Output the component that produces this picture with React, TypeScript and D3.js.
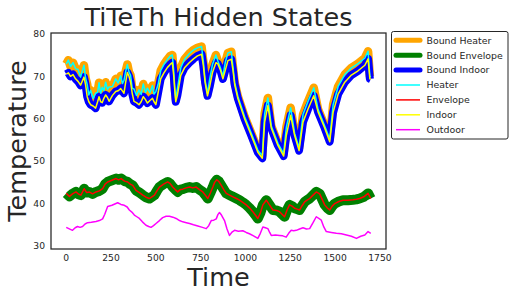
import * as d3 from "d3";

// top group (heater / indoor), sampled at the same times
const topTime = [0, 12, 24, 38, 52, 66, 80, 99, 108, 117, 126, 136, 150, 164, 175, 183, 192, 201, 210, 220, 230, 239, 258, 276, 290, 304, 314, 322, 333, 341, 350, 359, 368, 378, 392, 406, 418, 430, 442, 453, 467, 481, 490, 500, 512, 527, 545, 565, 580, 592, 600, 606, 611, 620, 639, 660, 686, 710, 732, 755, 765, 775, 788, 800, 816, 835, 846, 860, 874, 888, 902, 921, 930, 940, 958, 995, 1032, 1069, 1094, 1107, 1125, 1144, 1181, 1213, 1228, 1252, 1274, 1299, 1321, 1349, 1381, 1405, 1442, 1470, 1489, 1517, 1554, 1591, 1628, 1666, 1684, 1694, 1699];
const indoor = [70.5, 70.8, 70.0, 70.4, 69.4, 68.8, 67.9, 69.8, 68.0, 65.2, 64.0, 63.3, 63.0, 62.5, 64.0, 65.2, 64.0, 63.8, 64.8, 65.6, 65.0, 64.1, 65.5, 66.4, 66.6, 67.1, 66.5, 66.0, 69.0, 70.9, 70.0, 68.6, 66.0, 64.1, 63.8, 63.3, 64.0, 65.2, 64.5, 63.7, 64.3, 64.8, 64.0, 63.3, 66.0, 69.4, 70.8, 72.1, 72.8, 73.2, 70.0, 66.5, 64.0, 65.5, 70.2, 72.0, 73.2, 74.1, 74.8, 75.2, 72.5, 68.5, 65.4, 67.5, 70.9, 73.2, 72.9, 71.5, 69.4, 71.5, 73.7, 74.0, 71.5, 68.0, 64.7, 60.0, 56.1, 52.1, 50.7, 59.2, 63.1, 57.8, 53.7, 51.2, 56.1, 60.8, 56.1, 52.5, 59.2, 62.3, 65.4, 61.6, 57.8, 54.6, 61.5, 65.8, 68.6, 70.3, 71.3, 72.6, 74.1, 69.4, 69.3];
const heater = [72.9, 73.8, 72.3, 73.2, 71.8, 71.6, 69.8, 72.6, 69.6, 68.1, 65.6, 66.7, 64.8, 66.0, 66.2, 68.5, 66.0, 67.4, 66.6, 68.6, 66.9, 67.5, 67.6, 69.4, 68.4, 70.1, 68.3, 69.0, 71.4, 72.8, 71.0, 70.2, 67.2, 67.0, 65.5, 66.8, 65.7, 68.2, 66.2, 67.2, 66.1, 67.8, 65.8, 66.4, 68.0, 71.3, 72.8, 74.0, 74.8, 75.0, 71.0, 67.0, 64.6, 67.0, 72.0, 74.0, 75.3, 76.2, 76.7, 77.0, 73.5, 69.0, 65.9, 69.2, 72.8, 75.0, 73.6, 72.0, 70.0, 73.4, 75.5, 75.8, 72.3, 68.5, 65.2, 60.5, 56.6, 52.6, 51.3, 61.2, 64.9, 58.3, 54.2, 51.8, 58.0, 62.6, 56.6, 53.1, 61.0, 64.1, 67.3, 62.2, 58.3, 55.2, 63.3, 67.6, 70.4, 72.0, 73.0, 74.3, 75.9, 70.0, 69.8];

const envTime = [0, 18, 35, 54, 70, 82, 100, 114, 128, 147, 166, 185, 203, 217, 231, 255, 278, 292, 306, 325, 343, 357, 371, 389, 408, 427, 445, 464, 478, 492, 506, 520, 543, 566, 580, 594, 608, 622, 636, 650, 669, 688, 706, 725, 743, 762, 776, 790, 804, 818, 828, 840, 852, 865, 879, 893, 911, 930, 949, 967, 985, 1004, 1022, 1041, 1055, 1069, 1083, 1097, 1116, 1134, 1153, 1172, 1190, 1204, 1218, 1232, 1246, 1260, 1274, 1288, 1302, 1316, 1330, 1344, 1358, 1377, 1395, 1414, 1428, 1442, 1456, 1470, 1484, 1498, 1521, 1544, 1572, 1600, 1619, 1637, 1660, 1684, 1699];
const envelope = [42.4, 41.7, 42.3, 42.75, 42.2, 42.0, 43.5, 42.6, 42.75, 42.3, 42.75, 43.0, 43.5, 44.6, 45.1, 45.5, 45.9, 45.6, 45.9, 45.3, 45.1, 44.6, 44.3, 43.1, 42.6, 42.0, 41.5, 41.2, 41.6, 42.0, 43.0, 43.9, 44.6, 45.1, 44.7, 43.9, 43.3, 42.75, 43.3, 43.4, 43.7, 43.9, 43.7, 43.9, 43.3, 42.75, 42.0, 41.2, 42.5, 43.9, 45.0, 45.6, 45.2, 44.3, 43.3, 42.4, 42.0, 41.6, 41.2, 40.8, 40.3, 39.7, 39.0, 38.1, 37.3, 36.5, 37.8, 39.7, 40.8, 39.7, 38.5, 38.4, 38.1, 37.5, 36.9, 38.5, 39.7, 39.4, 38.9, 38.7, 38.5, 39.5, 40.4, 40.8, 41.2, 42.0, 42.75, 42.3, 41.0, 39.7, 39.0, 38.5, 39.4, 40.0, 40.5, 40.8, 40.8, 40.9, 41.0, 41.2, 41.6, 42.4, 41.2];

const outTime = [0, 20, 35, 50, 63, 77, 91, 105, 119, 140, 166, 185, 203, 215, 231, 255, 287, 305, 324, 340, 352, 366, 380, 394, 408, 425, 445, 460, 473, 487, 501, 520, 538, 557, 576, 595, 613, 632, 650, 670, 688, 710, 734, 760, 781, 795, 809, 823, 837, 846, 855, 866, 883, 897, 911, 925, 939, 960, 985, 1004, 1022, 1045, 1069, 1083, 1097, 1111, 1125, 1135, 1144, 1167, 1190, 1208, 1227, 1241, 1255, 1269, 1283, 1302, 1321, 1340, 1358, 1377, 1395, 1409, 1423, 1437, 1451, 1479, 1507, 1535, 1563, 1591, 1619, 1643, 1666, 1684, 1699];
const outdoor = [34.4, 34.0, 33.7, 34.3, 34.6, 34.4, 34.6, 35.2, 35.5, 35.6, 35.8, 36.0, 36.4, 37.5, 39.3, 39.6, 40.2, 39.8, 39.6, 39.2, 38.5, 38.0, 37.3, 36.9, 36.5, 35.7, 34.9, 34.6, 34.4, 34.8, 35.3, 36.0, 36.7, 37.0, 37.0, 36.8, 36.5, 36.0, 35.7, 35.5, 35.3, 35.0, 34.7, 34.4, 34.1, 34.8, 36.0, 36.1, 36.4, 37.4, 37.9, 37.3, 36.0, 34.0, 32.5, 33.3, 33.7, 33.5, 33.6, 33.2, 32.9, 32.4, 31.8, 33.0, 34.5, 34.3, 34.1, 33.2, 32.5, 32.6, 32.5, 32.4, 32.1, 33.0, 33.7, 33.6, 33.7, 34.0, 34.3, 34.0, 34.1, 35.5, 36.9, 36.5, 36.1, 34.5, 33.4, 33.2, 33.0, 32.9, 32.6, 32.3, 31.8, 32.3, 32.6, 33.4, 33.0];

const xTicks = [0, 250, 500, 750, 1000, 1250, 1500, 1750];
const yTicks = [30, 40, 50, 60, 70, 80];

const legendItems = [
  { label: "Bound Heater", color: "orange", w: 5 },
  { label: "Bound Envelope", color: "green", w: 5 },
  { label: "Bound Indoor", color: "blue", w: 5 },
  { label: "Heater", color: "cyan", w: 1.5 },
  { label: "Envelope", color: "red", w: 1.5 },
  { label: "Indoor", color: "yellow", w: 1.5 },
  { label: "Outdoor", color: "magenta", w: 1.5 },
];

const L = 51, R = 386, T = 33, B = 249;
const font = "DejaVu Sans, sans-serif";

export default function App() {
  const x = d3.scaleLinear().domain([-85, 1784]).range([L, R]);
  const y = d3.scaleLinear().domain([29.3, 80.2]).range([B, T]);

  const path = (ts: number[], vs: number[]) =>
    d3.line<number>().x((_, i) => x(ts[i])).y((d) => y(d))(vs) || "";

  const series = [
    { d: path(topTime, heater), color: "orange", w: 8.5 },
    { d: path(envTime, envelope), color: "green", w: 10 },
    { d: path(topTime, indoor), color: "blue", w: 8 },
    { d: path(topTime, heater), color: "cyan", w: 1.5 },
    { d: path(envTime, envelope), color: "red", w: 1.5 },
    { d: path(topTime, indoor), color: "yellow", w: 1.5 },
    { d: path(outTime, outdoor), color: "magenta", w: 1.5 },
  ];

  return (
    <svg width={515} height={298} style={{ position: "absolute", left: 0, top: 0, background: "white" }} fontFamily={font}>
      <text x={(L + R) / 2} y={26} fontSize={25.5} textAnchor="middle" fill="#262626">TiTeTh Hidden States</text>
      <g>
        {series.map((s, i) => (
          <path key={i} d={s.d} fill="none" stroke={s.color} strokeWidth={s.w} strokeLinejoin="round" />
        ))}
      </g>
      <rect x={L} y={T} width={R - L} height={B - T} fill="none" stroke="#262626" strokeWidth={1.25} />
      {yTicks.map((t) => (
        <text key={t} x={L - 6} y={y(t) + 3.3} fontSize={9.2} textAnchor="end" fill="#262626">{t}</text>
      ))}
      {xTicks.map((t) => (
        <text key={t} x={x(t)} y={261} fontSize={9.2} textAnchor="middle" fill="#262626">{t}</text>
      ))}
      <text x={(L + R) / 2} y={286} fontSize={25.5} textAnchor="middle" fill="#262626">Time</text>
      <text transform={`translate(26,${(T + B) / 2}) rotate(-90)`} fontSize={25.5} textAnchor="middle" fill="#262626">Temperature</text>
      <g>
        <rect x={391.5} y={31.5} width={116.5} height={107.5} rx={2} fill="white" stroke="#262626" strokeWidth={1} />
        {legendItems.map((it, i) => {
          const cy = 40.3 + i * 14.9;
          return (
            <g key={it.label}>
              <line x1={396} x2={420} y1={cy} y2={cy} stroke={it.color} strokeWidth={it.w} strokeLinecap={it.w > 2 ? "round" : "butt"} />
              <text x={426.5} y={cy + 3.3} fontSize={9.4} fill="#262626">{it.label}</text>
            </g>
          );
        })}
      </g>
    </svg>
  );
}
